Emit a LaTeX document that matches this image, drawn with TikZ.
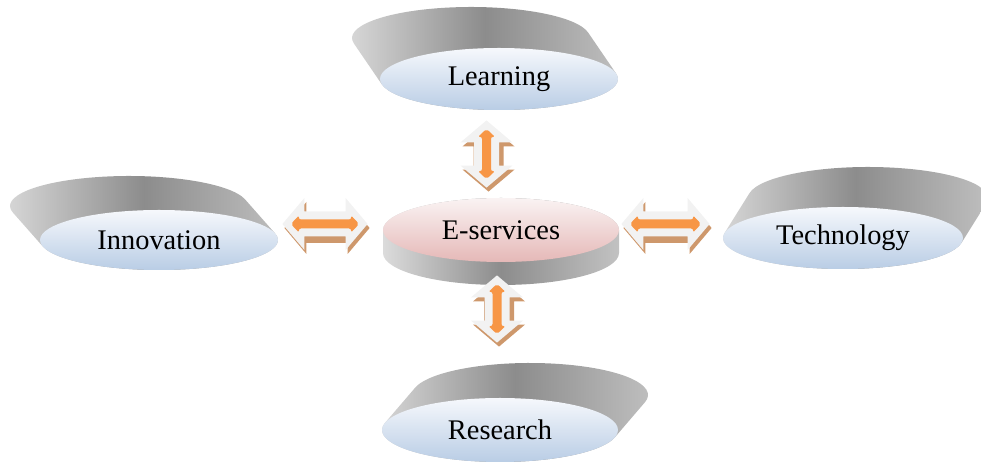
\documentclass[tikz,border=0pt]{standalone}
\usepackage{fontspec}
\setmainfont{Liberation Serif}
\usetikzlibrary{calc,%
  shapes.geometric,%
  backgrounds}

\definecolor{discblue}{RGB}{185,205,229}
\definecolor{disctop}{RGB}{246,248,252}
\definecolor{discpink}{RGB}{229,184,183}
\definecolor{pinktop}{RGB}{250,243,243}
\definecolor{arrowlite}{RGB}{242,242,242}
\definecolor{arroworange}{RGB}{247,150,70}
\definecolor{sidebrown}{RGB}{206,152,108}

\tikzset{
  disc/.style={ellipse, inner sep=0pt, top color=disctop, bottom color=discblue,
    font=\fontsize{14.2}{17}\selectfont},
  hub/.style={disc, top color=pinktop, bottom color=discpink},
  rim/.style={left color=black!14, right color=black!24, middle color=black!45},
  % block double arrow between two points: {head half width}{head length}{shaft half width}{inset}
  dbl/.style n args={4}{to path={
    ($(\tikztostart)!#4!(\tikztotarget)$)
    -- ($(\tikztostart)!#4!(\tikztotarget)!#2!(\tikztotarget)!#1!90:(\tikztotarget)$)
    -- ($(\tikztostart)!#4!(\tikztotarget)!#2!(\tikztotarget)!#3!90:(\tikztotarget)$)
    -- ($(\tikztotarget)!#4!(\tikztostart)!#2!(\tikztostart)!#3!-90:(\tikztostart)$)
    -- ($(\tikztotarget)!#4!(\tikztostart)!#2!(\tikztostart)!#1!-90:(\tikztostart)$)
    -- ($(\tikztotarget)!#4!(\tikztostart)$)
    -- ($(\tikztotarget)!#4!(\tikztostart)!#2!(\tikztostart)!#1!90:(\tikztostart)$)
    -- ($(\tikztotarget)!#4!(\tikztostart)!#2!(\tikztostart)!#3!90:(\tikztostart)$)
    -- ($(\tikztostart)!#4!(\tikztotarget)!#2!(\tikztotarget)!#3!-90:(\tikztotarget)$)
    -- ($(\tikztostart)!#4!(\tikztotarget)!#2!(\tikztotarget)!#1!-90:(\tikztotarget)$)
    -- cycle}},
  arrowbody/.style={dbl={13pt}{11pt}{6.25pt}{0pt}},
  arrowside/.style={dbl={13pt}{11pt}{7.5pt}{0pt}},
  arrowcore/.style={dbl={4.25pt}{4pt}{2.25pt}{4.25pt}}
}

\begin{document}
\begin{tikzpicture}[x=0.5pt,y=-0.5pt]
  \useasboundingbox (0,0) rectangle (981,464);

  \node[disc, minimum width=119pt, minimum height=31pt] (learn) at (499,79) {Learning};
  \node[hub, minimum width=118pt, minimum height=32pt] (eserv) at (501,230) {E-services};
  \node[disc, minimum width=119pt, minimum height=30pt] (innov) at (159,240) {Innovation};
  \node[disc, minimum width=120pt, minimum height=31pt] (tech) at (843,238) {Technology};
  \node[disc, minimum width=118pt, minimum height=32pt] (research) at (500,430) {Research};

  % grey sides of the discs
  \begin{scope}[on background layer]
    \shade[rim] ([shift={(-28,-41)}]learn.center) ++(169.7:119 and 31)
      arc[start angle=169.7, end angle=349.7, x radius=119, y radius=31]
      -- ($(learn.center)+(349.7:119 and 31)$)
      arc[start angle=349.7, end angle=529.7, x radius=119, y radius=31] -- cycle;
    \shade[rim] ([shift={(-30,-34)}]innov.center) ++(167.1:119 and 30)
      arc[start angle=167.1, end angle=347.1, x radius=119, y radius=30]
      -- ($(innov.center)+(347.1:119 and 30)$)
      arc[start angle=347.1, end angle=527.1, x radius=119, y radius=30] -- cycle;
    \shade[rim] ([shift={(25,-40)}]tech.center) ++(189.2:120 and 31)
      arc[start angle=189.2, end angle=369.2, x radius=120, y radius=31]
      -- ($(tech.center)+(369.2:120 and 31)$)
      arc[start angle=369.2, end angle=549.2, x radius=120, y radius=31] -- cycle;
    \shade[rim] ([shift={(30,-35)}]research.center) ++(193.1:118 and 32)
      arc[start angle=193.1, end angle=373.1, x radius=118, y radius=32]
      -- ($(research.center)+(373.1:118 and 32)$)
      arc[start angle=373.1, end angle=553.1, x radius=118, y radius=32] -- cycle;
    \shade[rim] ([shift={(0,23)}]eserv.center) ++(0:118 and 32)
      arc[start angle=0, end angle=180, x radius=118, y radius=32]
      -- ($(eserv.center)+(180:118 and 32)$)
      arc[start angle=180, end angle=360, x radius=118, y radius=32] -- cycle;
  \end{scope}

  \coordinate (l1) at ($(learn.south)+(-12.5,10)$);
  \coordinate (l2) at ($(eserv.north)+(-14.5,-10)$);
  \coordinate (r1) at ($(eserv.south)+(-4,13)$);
  \coordinate (r2) at ($(research.north)+(-3,-55)$);
  \coordinate (i1) at ($(innov.east)+(4,-16)$);
  \coordinate (i2) at ($(eserv.west)+(-15,-6)$);
  \coordinate (t1) at ($(eserv.east)+(2,-6)$);
  \coordinate (t2) at ($(tech.west)+(-13,-14)$);

  \foreach \a/\b in {l1/l2,r1/r2,i1/i2,t1/t2}{
    \fill[sidebrown, transform canvas={shift={(1pt,-2pt)}}] (\a) to[arrowside] (\b);
    \fill[arrowlite] (\a) to[arrowbody] (\b);
    \fill[arroworange, rounded corners=1pt] (\a) to[arrowcore] (\b);
  }
\end{tikzpicture}
\end{document}
